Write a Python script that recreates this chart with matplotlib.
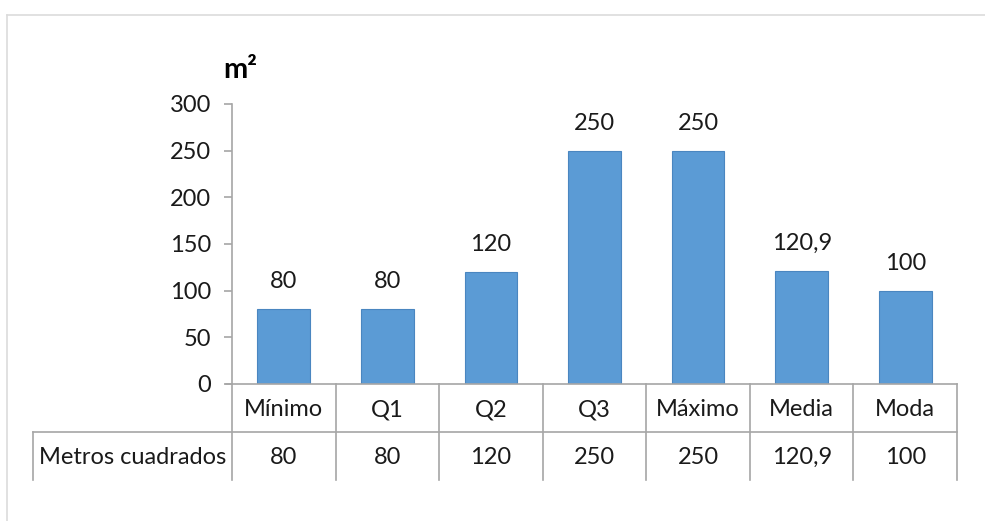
import matplotlib
matplotlib.use("Agg")
import matplotlib.pyplot as plt
from matplotlib.lines import Line2D

categories = ["Mínimo", "Q1", "Q2", "Q3", "Máximo", "Media", "Moda"]
values = [80, 80, 120, 250, 250, 120.9, 100]
value_labels = ["80", "80", "120", "250", "250", "120,9", "100"]
row_label = "Metros cuadrados"
y_ticks = [0, 50, 100, 150, 200, 250, 300]
unit_label = "m²"

plt.rcParams["font.family"] = ["Lato", "DejaVu Sans"]
text_color = "#1a1a1a"
grid_color = "#a6a6a6"
bar_color = "#5b9bd5"
fs = 17

W, H = 985, 521
fig = plt.figure(figsize=(W / 100, H / 100), dpi=100)
fig.patch.set_facecolor("white")

# light outer frame (top and left edges)
fig.add_artist(Line2D([7 / W, 1], [1 - 15 / H, 1 - 15 / H], color="#dcdcdc", lw=1.2))
fig.add_artist(Line2D([7 / W, 7 / W], [0, 1 - 15 / H], color="#dcdcdc", lw=1.2))

left, right = 232 / W, 957 / W
bottom, top = 1 - 384 / H, 1 - 104 / H
ax = fig.add_axes([left, bottom, right - left, top - bottom])

n = len(categories)
x = list(range(n))
ax.bar(x, values, width=0.51, color=bar_color, edgecolor="#4a86c0", linewidth=0.8, zorder=2)
ax.set_xlim(-0.5, n - 0.5)
ax.set_ylim(0, 300)

for xi, v, lab in zip(x, values, value_labels):
    ax.annotate(lab, (xi, v), xytext=(0, 15), textcoords="offset points",
                ha="center", va="baseline", fontsize=fs, color=text_color)

for s in ["top", "right", "bottom"]:
    ax.spines[s].set_visible(False)
ax.spines["left"].set_color(grid_color)
ax.spines["left"].set_linewidth(1.2)
ax.set_xticks([])
ax.set_yticks(y_ticks)
ax.set_yticklabels([str(t) for t in y_ticks], fontsize=fs, color=text_color)
ax.tick_params(axis="y", length=6, width=1.2, color=grid_color, pad=9)

ax.text(0.012, 1.12, unit_label, transform=ax.transAxes, fontsize=21,
        fontweight="bold", ha="center", va="center", color="black")

# data table under the axis
axis_px = 384 - 104
row_h = 48 / axis_px
base_off = 8 / axis_px
col_left = (33 - 232) / (957 - 232)
tr = ax.transAxes
kw = dict(transform=tr, color=grid_color, lw=1.2, clip_on=False)
ax.add_line(Line2D([-0.008, 1], [0, 0], **kw))
ax.add_line(Line2D([col_left, 1], [-row_h, -row_h], **kw))
ax.add_line(Line2D([col_left, col_left], [-row_h, -2 * row_h], **kw))
for i in range(n + 1):
    xf = i / n
    ax.add_line(Line2D([xf, xf], [0, -2 * row_h], **kw))

for i, (cat, lab) in enumerate(zip(categories, value_labels)):
    xc = (i + 0.5) / n
    ax.text(xc, -0.5 * row_h - base_off, cat, transform=tr, ha="center", va="baseline",
            fontsize=fs, color=text_color)
    ax.text(xc, -1.5 * row_h - base_off, lab, transform=tr, ha="center", va="baseline",
            fontsize=fs, color=text_color)
ax.text(col_left / 2, -1.5 * row_h - base_off, row_label, transform=tr, ha="center",
        va="baseline", fontsize=fs, color=text_color)

fig.savefig("out.png", dpi=100, facecolor="white")
